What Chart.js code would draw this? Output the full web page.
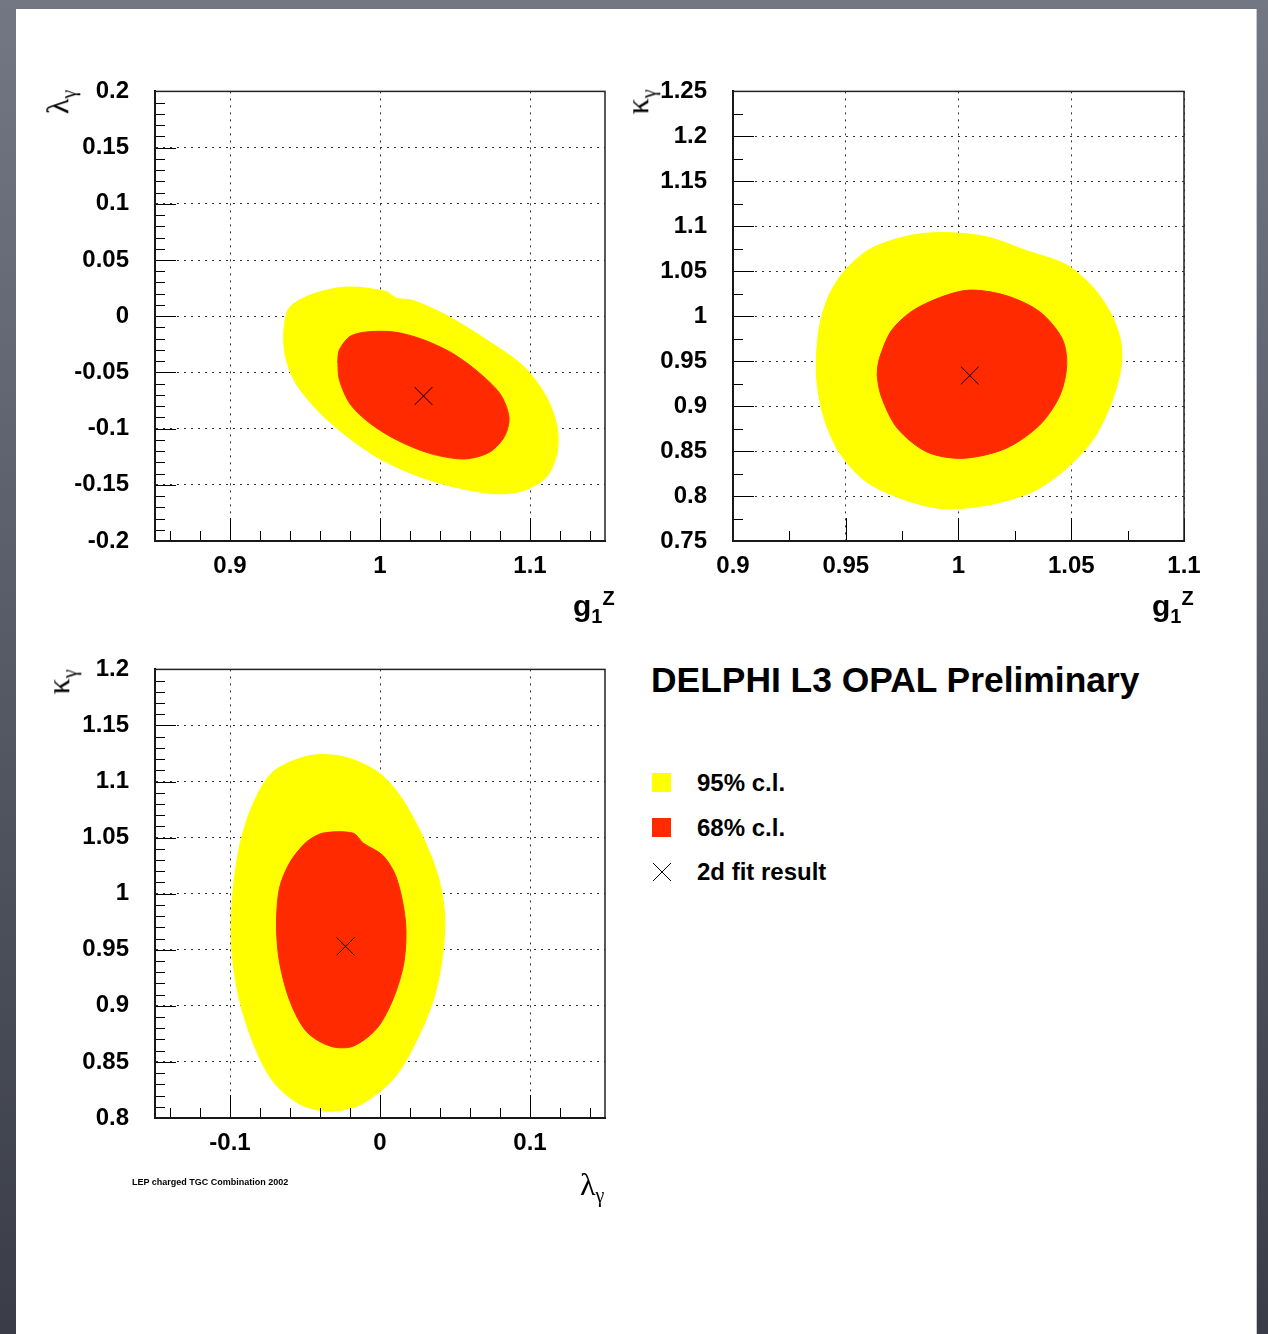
<!DOCTYPE html>
<html>
<head>
<meta charset="utf-8">
<title>LEP charged TGC combination</title>
<script src="https://cdn.jsdelivr.net/npm/chart.js@4.4.1/dist/chart.umd.min.js"></script>
<style>
  body {
    margin: 0;
    width: 1268px;
    height: 1334px;
    overflow: hidden;
    position: relative;
    background: linear-gradient(#737784, #3a3d47);
    font-family: "Liberation Sans", Arial, Helvetica, sans-serif;
  }
  .sheet {
    position: absolute;
    left: 16px; top: 9px;
    width: 1240px; height: 1340px;
    background: #fff;
    box-shadow: 1px 0 0 #c9c9cc;
  }
  canvas { position: absolute; }
  .lbl { position: absolute; white-space: nowrap; line-height: 1; color: #000; }
  .xt { font-weight: bold; font-size: 30px; }
  .xt sub, .xt sup { font-size: 20px; }
  .greek { font-family: "Liberation Serif", "DejaVu Serif", serif; font-size: 32px; }
  .greek sub { font-size: 20px; }
  .rot { transform: translate(-50%, -50%) rotate(-90deg); }
  .title { font-weight: bold; font-size: 35.4px; }
  .leg { font-weight: bold; font-size: 24px; }
  .swatch { position: absolute; width: 19px; height: 19px; }
  .foot { font-weight: bold; font-size: 9px; }
</style>
</head>
<body>
<div class="sheet"></div>

<canvas id="c1" width="630" height="560" style="left:15px; top:51px; width:630px; height:560px;"></canvas>
<canvas id="c2" width="630" height="560" style="left:593px; top:51px; width:630px; height:560px;"></canvas>
<canvas id="c3" width="630" height="560" style="left:15px; top:629px; width:630px; height:560px;"></canvas>

<!-- axis titles -->
<div class="lbl greek rot" style="left:60px; top:102px;">λ<sub>γ</sub></div>
<div class="lbl xt" style="left:573px; top:588px;">g<sub>1</sub><sup>Z</sup></div>

<div class="lbl greek rot" style="left:640px; top:102px;">κ<sub>γ</sub></div>
<div class="lbl xt" style="left:1152px; top:588px;">g<sub>1</sub><sup>Z</sup></div>

<div class="lbl greek rot" style="left:61px; top:682px;">κ<sub>γ</sub></div>
<div class="lbl greek" style="left:580px; top:1168px;">λ<sub>γ</sub></div>

<div class="lbl foot" style="left:132px; top:1178px;">LEP charged TGC Combination 2002</div>

<!-- title and legend -->
<div class="lbl title" style="left:651px; top:663px;">DELPHI L3 OPAL Preliminary</div>

<div class="swatch" style="left:652px; top:773px; background:#ffff00;"></div>
<div class="lbl leg" style="left:697px; top:771px;">95% c.l.</div>
<div class="swatch" style="left:652px; top:818px; background:#ff2a00;"></div>
<div class="lbl leg" style="left:697px; top:816px;">68% c.l.</div>
<svg style="position:absolute; left:652px; top:862px;" width="20" height="20">
  <line x1="1" y1="1" x2="19" y2="19" stroke="#000" stroke-width="1"/>
  <line x1="19" y1="1" x2="1" y2="19" stroke="#000" stroke-width="1"/>
</svg>
<div class="lbl leg" style="left:697px; top:860px;">2d fit result</div>

<script>
"use strict";

const FONT = '"Liberation Sans", Arial, Helvetica, sans-serif';
const C95 = '#ffff00';
const C68 = '#ff2a00';

// g1Z vs lambda_gamma contours [g1Z, lambda]
const g1zLam95 = [[0.940, 0.008], [0.956, 0.020], [0.978, 0.026], [1.004, 0.022], [1.011, 0.016],
    [1.022, 0.014], [1.044, 0.001], [1.071, -0.021], [1.096, -0.045], [1.111, -0.072],
    [1.118, -0.098], [1.118, -0.122], [1.111, -0.143], [1.096, -0.155], [1.078, -0.158],
    [1.053, -0.153], [1.027, -0.143], [1.000, -0.127], [0.978, -0.107], [0.960, -0.086],
    [0.944, -0.060], [0.937, -0.036], [0.936, -0.012]];
const g1zLam68 = [[0.973, -0.030], [0.980, -0.018], [0.991, -0.014], [1.009, -0.014], [1.027, -0.020],
    [1.047, -0.032], [1.064, -0.048], [1.080, -0.069], [1.086, -0.090], [1.083, -0.107],
    [1.073, -0.121], [1.056, -0.127], [1.033, -0.122], [1.011, -0.110], [0.993, -0.095],
    [0.980, -0.078], [0.973, -0.057], [0.972, -0.042]];
const g1zLamFit = [1.029, -0.071];

// g1Z vs kappa_gamma contours [g1Z, kappa]
const g1zKap95 = [[0.949, 1.049], [0.961, 1.075], [0.979, 1.090], [0.995, 1.093], [1.013, 1.088],
    [1.030, 1.073], [1.048, 1.057], [1.060, 1.031], [1.068, 1.001], [1.072, 0.971],
    [1.072, 0.942], [1.068, 0.905], [1.060, 0.864], [1.048, 0.831], [1.033, 0.805],
    [1.013, 0.790], [0.993, 0.786], [0.976, 0.796], [0.959, 0.816], [0.947, 0.849],
    [0.940, 0.890], [0.937, 0.934], [0.938, 0.983], [0.942, 1.020]];
const g1zKap68 = [[0.965, 0.953], [0.970, 0.983], [0.979, 1.005], [0.992, 1.021], [1.005, 1.029],
    [1.021, 1.023], [1.036, 1.005], [1.046, 0.975], [1.048, 0.946], [1.045, 0.912],
    [1.036, 0.879], [1.021, 0.853], [1.002, 0.842], [0.986, 0.849], [0.973, 0.875],
    [0.966, 0.909], [0.964, 0.934]];
const g1zKapFit = [1.005, 0.934];

// lambda_gamma vs kappa_gamma contours [lambda, kappa]
const lamKap95 = [[-0.071, 1.109], [-0.047, 1.123], [-0.024, 1.122], [-0.002, 1.109], [0.013, 1.088],
    [0.027, 1.055], [0.038, 1.019], [0.043, 0.984], [0.042, 0.948], [0.036, 0.907],
    [0.024, 0.868], [0.009, 0.835], [-0.013, 0.812], [-0.033, 0.806], [-0.053, 0.812],
    [-0.071, 0.832], [-0.084, 0.865], [-0.094, 0.907], [-0.099, 0.954], [-0.098, 1.002],
    [-0.093, 1.046], [-0.084, 1.082]];
const lamKap68 = [[-0.049, 1.046], [-0.038, 1.054], [-0.018, 1.054], [-0.011, 1.045], [0.002, 1.034],
    [0.011, 1.014], [0.017, 0.975], [0.016, 0.939], [0.009, 0.907], [-0.002, 0.880],
    [-0.018, 0.864], [-0.033, 0.864], [-0.049, 0.877], [-0.060, 0.904], [-0.067, 0.939],
    [-0.069, 0.972], [-0.067, 1.005], [-0.060, 1.028]];
const lamKapFit = [-0.023, 0.953];

// labelled tick values
const g1zTicksWide = [0.9, 1.0, 1.1];
const g1zTicksNarrow = [0.9, 0.95, 1.0, 1.05, 1.1];
const lamTicksY = [-0.2, -0.15, -0.1, -0.05, 0, 0.05, 0.1, 0.15, 0.2];
const lamTicksX = [-0.1, 0, 0.1];
const kapTicksB = [0.75, 0.8, 0.85, 0.9, 0.95, 1.0, 1.05, 1.1, 1.15, 1.2, 1.25];
const kapTicksC = [0.8, 0.85, 0.9, 0.95, 1.0, 1.05, 1.1, 1.15, 1.2];


// majors + minor subdivisions for an axis
function buildTicks(min, max, minorStep, majors) {
    const out = [];
    const k0 = Math.ceil(min / minorStep - 1e-6);
    const k1 = Math.floor(max / minorStep + 1e-6);
    for (let k = k0; k <= k1; k++) {
        const v = +(k * minorStep).toFixed(4);
        const major = majors.some(m => Math.abs(m - v) < 1e-6);
        out.push({ value: v, major: major });
    }
    return out;
}

function fmt(v) {
    return String(Number(v.toFixed(3)));
}

// ROOT style: ticks inside the frame, closed frame box
const frameTicks = {
    id: 'frameTicks',
    afterDatasetsDraw(chart) {
        const { ctx, chartArea: a, scales } = chart;
        ctx.save();
        ctx.strokeStyle = '#000';
        ctx.lineWidth = 1;
        ctx.beginPath();
        scales.x.ticks.forEach(t => {
            const px = Math.round(scales.x.getPixelForValue(t.value)) + 0.5;
            const len = t.major ? 23 : 10;
            ctx.moveTo(px, a.bottom);
            ctx.lineTo(px, a.bottom - len);
        });
        scales.y.ticks.forEach(t => {
            const py = Math.round(scales.y.getPixelForValue(t.value)) + 0.5;
            const len = t.major ? 21 : 10;
            ctx.moveTo(a.left, py);
            ctx.lineTo(a.left + len, py);
        });
        ctx.stroke();
        ctx.strokeStyle = '#222';
        ctx.lineWidth = 1.5;
        ctx.strokeRect(a.left, a.top, a.right - a.left, a.bottom - a.top);
        ctx.restore();
    }
};

// closed contour: wrap one point on each end so the spline has no corner at the seam
function contour(points, color) {
    const n = points.length;
    const ring = [points[n - 1]].concat(points, [points[0], points[1]]);
    return {
        data: ring.map(p => ({ x: p[0], y: p[1] })),
        showLine: true,
        fill: 'shape',
        backgroundColor: color,
        borderColor: color,
        borderWidth: 1,
        pointRadius: 0,
        tension: 0.3
    };
}

function axis(min, max, minorStep, majors, isX, size) {
    return {
        type: 'linear',
        min: min,
        max: max,
        afterBuildTicks(scale) {
            scale.ticks = buildTicks(min, max, minorStep, majors);
        },
        afterFit(scale) {
            if (isX) scale.height = size; else scale.width = size;
        },
        grid: {
            drawTicks: false,
            lineWidth: 1,
            color: c => (c.tick && c.tick.major) ? '#333' : 'rgba(0,0,0,0)'
        },
        border: { display: true, color: '#000', width: 2, dash: [2, 5] },
        ticks: {
            autoSkip: false,
            maxRotation: 0,
            minRotation: 0,
            padding: isX ? 11 : 26,
            color: '#000',
            font: { family: FONT, size: 24, weight: 'bold' },
            callback: (v, i, ticks) => ticks[i].major ? fmt(v) : ''
        }
    };
}

function makePanel(id, p) {
    return new Chart(document.getElementById(id), {
        type: 'scatter',
        data: {
            datasets: [
                {
                    data: [{ x: p.fit[0], y: p.fit[1] }],
                    pointStyle: 'crossRot',
                    pointRadius: 12.5,
                    borderColor: '#000',
                    backgroundColor: '#000',
                    borderWidth: 1
                },
                contour(p.c68, C68),
                contour(p.c95, C95)
            ]
        },
        options: {
            responsive: false,
            animation: false,
            events: [],
            layout: { padding: { left: 0, top: 20, right: p.padRight, bottom: p.padBottom } },
            plugins: { legend: { display: false }, tooltip: { enabled: false } },
            scales: {
                x: axis(p.x[0], p.x[1], p.x[2], p.xMajor, true, 60),
                y: axis(p.y[0], p.y[1], p.y[2], p.yMajor, false, 140)
            }
        },
        plugins: [frameTicks]
    });
}

makePanel('c1', {
    c95: g1zLam95, c68: g1zLam68, fit: g1zLamFit,
    x: [0.85, 1.15, 0.02], xMajor: g1zTicksWide,
    y: [-0.2, 0.2, 0.01], yMajor: lamTicksY,
    padRight: 40, padBottom: 10
});

makePanel('c2', {
    c95: g1zKap95, c68: g1zKap68, fit: g1zKapFit,
    x: [0.9, 1.1, 0.025], xMajor: g1zTicksNarrow,
    y: [0.75, 1.25, 0.025], yMajor: kapTicksB,
    padRight: 39, padBottom: 10
});

makePanel('c3', {
    c95: lamKap95, c68: lamKap68, fit: lamKapFit,
    x: [-0.15, 0.15, 0.02], xMajor: lamTicksX,
    y: [0.8, 1.2, 0.01], yMajor: kapTicksC,
    padRight: 40, padBottom: 11
});
</script>
</body>
</html>
